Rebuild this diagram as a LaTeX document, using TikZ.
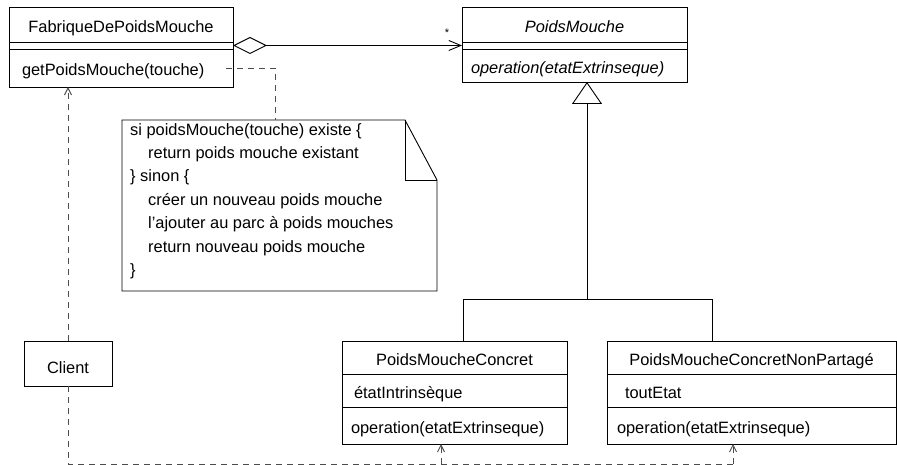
\documentclass[tikz,border=0pt]{standalone}
\usepackage{fontspec}
\setmainfont{Liberation Sans}
\usetikzlibrary{positioning,arrows.meta}

\begin{document}
\begin{tikzpicture}[x=1pt,y=-1pt,font=\fontsize{16.4}{23.4}\selectfont]
\tikzset{uml/.style={draw,rectangle,line width=0.9pt,inner sep=0pt,outer sep=0pt,anchor=north,text height=15.6pt,text depth=0pt}}
\tikzset{nom/.style={uml,align=center}}
\tikzset{part/.style={uml,align=left,inner xsep=9pt,text width=#1}}
\tikzset{vide/.style={uml,text height=0pt,minimum height=7pt}}
\tikzset{dep/.style={dash pattern=on 6pt off 5pt,line width=0.9pt,black!70}}
\tikzset{fleche/.style={-{Straight Barb[length=7pt,width=7pt]}}}

  \useasboundingbox (0,0) rectangle (897,465);

  % fabrique
  \node[nom,minimum width=224pt,minimum height=35pt] (fab) at (121,7) {FabriqueDePoidsMouche};
  \node[vide,minimum width=224pt] (fabattr) at (fab.south) {};
  \node[part=206pt,minimum height=38pt] (fabops) at (fabattr.south) {\hspace*{4pt}getPoidsMouche(touche)};

  % poids mouche
  \node[nom,minimum width=225pt,minimum height=35pt] (pm) at (574.5,7) {\textit{PoidsMouche}};
  \node[vide,minimum width=225pt] (pmattr) at (pm.south) {};
  \node[part=207pt,minimum height=33pt] (pmops) at (pmattr.south) {\textit{operation(etatExtrinseque)}};

  % concrets
  \node[nom,minimum width=225pt,minimum height=33pt] (pmc) at (454.5,341) {PoidsMoucheConcret};
  \node[part=207pt,minimum height=33pt] (pmcattr) at (pmc.south) {\hspace*{3pt}étatIntrinsèque};
  \node[part=207pt,minimum height=37pt] (pmcops) at (pmcattr.south) {operation(etatExtrinseque)};

  \node[nom,minimum width=289pt,minimum height=33pt] (pmcnp) at (751.5,341) {PoidsMoucheConcretNonPartagé};
  \node[part=271pt,minimum height=33pt] (pmcnpattr) at (pmcnp.south) {\hspace*{9pt}toutEtat};
  \node[part=271pt,minimum height=37pt] (pmcnpops) at (pmcnpattr.south) {\hspace*{1pt}operation(etatExtrinseque)};

  % client
  \node[nom,minimum width=88pt,minimum height=45pt,text height=20pt] (client) at (68,341) {Client};

  % note
  \draw[line width=0.9pt] (122,120) -- (405,120) -- (437,180) -- (437,291) -- (122,291) -- cycle;
  \draw[line width=0.9pt] (405,120) -- (405,180) -- (437,180);
  \node[anchor=north west,align=left,inner sep=0pt] (note) at (130,123) {si poidsMouche(touche) existe \{\\
    \hspace*{18pt}return poids mouche existant\\
    \} sinon \{\\
    \hspace*{18pt}créer un nouveau poids mouche\\
    \hspace*{18pt}l’ajouter au parc à poids mouches\\
    \hspace*{18pt}return nouveau poids mouche\\
    \}};
  \coordinate (notehaut) at (275,120);
  \draw[dep] ([xshift=-7pt]fabops.east) -| (notehaut);

  % agregation
  \draw[line width=0.9pt,{Diamond[open,length=34pt,width=17pt]}-{Straight Barb[length=12pt,width=10pt]}] (fabattr.east) -- (pmattr.west);
  \node[inner sep=0pt] (mult) at (447,33) {\fontsize{11}{11}\selectfont *};

  % heritage
  \coordinate (gen) at (587,299);
  \coordinate (gpmc) at (463,299);
  \coordinate (gpmcnp) at (712,299);
  \draw[line width=0.9pt,-{Triangle[open,length=22pt,width=30pt]}] (gen) -- (gen |- pmops.south);
  \draw[line width=0.9pt] (pmc.north -| gpmc) -- (gpmc) -- (gpmcnp) -- (pmcnp.north -| gpmcnp);

  % dependances
  \coordinate (b1) at (441,464);
  \coordinate (b2) at (733,464);
  \draw[dep,fleche] (client.north) -- (client.north |- fabops.south);
  \draw[dep] (client.south) |- (b2);
  \draw[dep,fleche] (b1) -- (b1 |- pmcops.south);
  \draw[dep,fleche] (b2) -- (b2 |- pmcnpops.south);
\end{tikzpicture}
\end{document}
